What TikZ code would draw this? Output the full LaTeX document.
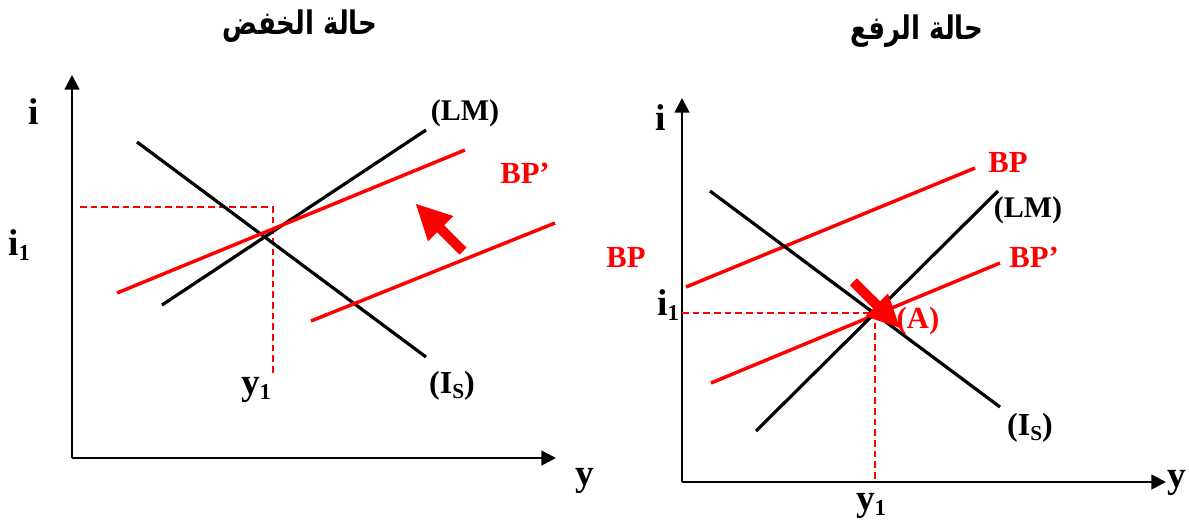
\documentclass[tikz,border=0pt]{standalone}
\usepackage{fontspec}
\setmainfont{Liberation Serif}
\newfontfamily\arabicfont[Script=Arabic]{DejaVu Sans}
\TeXXeTstate=1
\usetikzlibrary{arrows.meta}
\newcommand{\lowsub}[2]{\raisebox{-0.3ex}{\fontsize{#1}{#1}\selectfont #2}}
\newcommand{\tallar}[1]{\scalebox{1}[1.25]{\arabicfont\bfseries\fontsize{19.5}{21}\selectfont\beginR #1\endR}}
\begin{document}
\begin{tikzpicture}[x=0.75pt,y=-0.75pt,
  axis/.style={line width=2pt,-{Triangle[length=11pt,width=11pt]}},
  curve/.style={line width=2.4pt},
  redline/.style={line width=2.6pt,red},
  guide/.style={line width=1.1pt,red,dash pattern=on 5pt off 3pt},
  axlab/.style={font=\bfseries\fontsize{28}{30}\selectfont,inner sep=0pt},
  clab/.style={font=\bfseries\fontsize{22.5}{24}\selectfont,inner sep=0pt},
  islab/.style={font=\bfseries\fontsize{24}{26}\selectfont,inner sep=0pt},
  bplab/.style={font=\bfseries\fontsize{23}{25}\selectfont,inner sep=0pt,text=red},
  ttl/.style={inner sep=0pt},
  blk/.style={fill=red}]
\useasboundingbox (0,0) rectangle (1189,526);

% ---------------- left panel ----------------
\node[ttl] (tL) at (300,26) {\tallar{حالة الخفض}};
\coordinate (oL) at (72,458);
\coordinate (yTopL) at (72,75);
\coordinate (xEndL) at (556,458);
\draw[axis] (oL) -- (yTopL);
\draw[axis] (oL) -- (xEndL);
\node[axlab] (iL) at (34,112) {i};
\node[axlab] (i1L) at (19,245) {i\lowsub{17}{1}};
\node[axlab] (yL) at (585,481) {y};
\node[axlab] (y1L) at (256,390) {y\lowsub{17}{1}};
% dashed guides
\coordinate (gL1) at (80,207);
\coordinate (gL2) at (273,207);
\coordinate (gL3) at (273,375);
\draw[guide] (gL1) -- (gL2) -- (gL3);
% IS
\coordinate (isL1) at (137,142);
\coordinate (isL2) at (426,357);
\draw[curve] (isL1) -- (isL2);
% LM
\coordinate (lmL1) at (162,305);
\coordinate (lmL2) at (426,130);
\draw[curve] (lmL1) -- (lmL2);
% BP' (upper red)
\coordinate (bpL1) at (117,293);
\coordinate (bpL2) at (465,150);
\draw[redline] (bpL1) -- (bpL2);
% BP (lower red)
\coordinate (bpL3) at (311,321);
\coordinate (bpL4) at (555,223);
\draw[redline] (bpL3) -- (bpL4);
\node[clab] (lmLab) at (465,113) {(LM)};
\node[islab] (isLab) at (452,386) {(I\lowsub{16}{S})};
\node[bplab] (bpLab) at (525,173) {BP’};
% block arrow
\fill[blk] (459.5,254.5) -- (437.2,232.2) -- (428,241.4) -- (416,204) -- (453.4,216) -- (444.2,225.2) -- (466.5,247.5) -- cycle;

% ---------------- right panel ----------------
\node[ttl] (tR) at (917,31) {\tallar{حالة الرفع}};
\coordinate (oR) at (682,482);
\coordinate (yTopR) at (682,98);
\coordinate (xEndR) at (1166,482);
\draw[axis] (oR) -- (yTopR);
\draw[axis] (oR) -- (xEndR);
\node[axlab] (iR) at (661,118) {i};
\node[axlab] (i1R) at (668,305) {i\lowsub{17}{1}};
\node[axlab] (yR) at (1177,483) {y};
\node[axlab] (y1R) at (871,506) {y\lowsub{17}{1}};
% dashed guides
\coordinate (gR1) at (682,313);
\coordinate (gR2) at (875,313);
\coordinate (gR3) at (875,482);
\draw[guide] (gR1) -- (gR2) -- (gR3);
% BP upper
\coordinate (bpR1) at (686,287);
\coordinate (bpR2) at (975,168);
\draw[redline] (bpR1) -- (bpR2);
% BP' lower
\coordinate (bpR3) at (711,383);
\coordinate (bpR4) at (1000,263);
\draw[redline] (bpR3) -- (bpR4);
% IS
\coordinate (isR1) at (710,191);
\coordinate (isR2) at (1000,407);
\draw[curve] (isR1) -- (isR2);
% LM
\coordinate (lmR1) at (756,431);
\coordinate (lmR2) at (998,191);
\draw[curve] (lmR1) -- (lmR2);
\node[bplab] (bpRLab) at (1008,162) {BP};
\node[bplab] (bpRLab2) at (626,257) {BP};
\node[bplab] (bpRLab3) at (1034,257) {BP’};
\node[clab] (lmRLab) at (1028,210) {(LM)};
\node[islab] (isRLab) at (1030,428) {(I\lowsub{16}{S})};
\node[bplab] (aLab) at (918,321) {(A)};
% block arrow
\fill[blk] (849.8,285.2) -- (873.1,308.4) -- (865.3,316.2) -- (900,328) -- (887.9,293.4) -- (880.1,301.3) -- (856.8,278.2) -- cycle;
\end{tikzpicture}
\end{document}
